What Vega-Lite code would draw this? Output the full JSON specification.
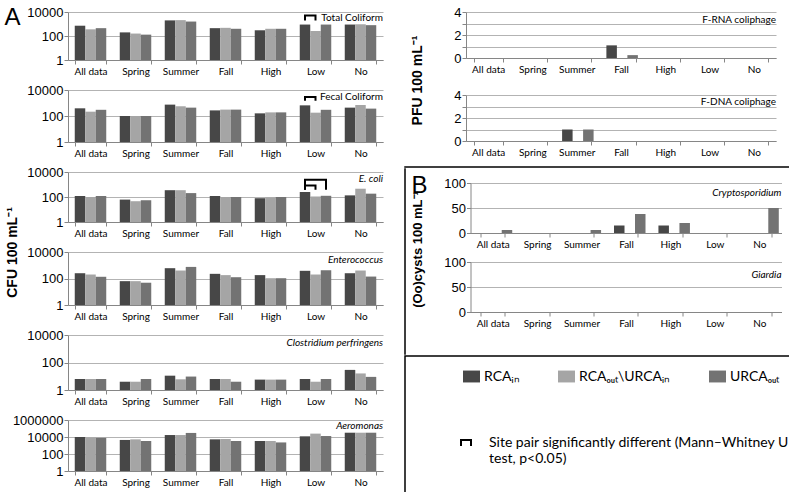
{
  "$schema": "https://vega.github.io/schema/vega-lite/v6.json",
  "padding": {"left": 4, "top": 5, "right": 0, "bottom": 0},
  "datasets": {
    "bac": [
      {"g": "Total Coliform", "cat": "All data", "site": "RCAᵢₙ", "v": 720},
      {"g": "Total Coliform", "cat": "All data", "site": "RCAₒᵤₜ\\URCAᵢₙ", "v": 360},
      {"g": "Total Coliform", "cat": "All data", "site": "URCAₒᵤₜ", "v": 450},
      {"g": "Total Coliform", "cat": "Spring", "site": "RCAᵢₙ", "v": 200},
      {"g": "Total Coliform", "cat": "Spring", "site": "RCAₒᵤₜ\\URCAᵢₙ", "v": 160},
      {"g": "Total Coliform", "cat": "Spring", "site": "URCAₒᵤₜ", "v": 130},
      {"g": "Total Coliform", "cat": "Summer", "site": "RCAᵢₙ", "v": 2000},
      {"g": "Total Coliform", "cat": "Summer", "site": "RCAₒᵤₜ\\URCAᵢₙ", "v": 2100},
      {"g": "Total Coliform", "cat": "Summer", "site": "URCAₒᵤₜ", "v": 1600},
      {"g": "Total Coliform", "cat": "Fall", "site": "RCAᵢₙ", "v": 450},
      {"g": "Total Coliform", "cat": "Fall", "site": "RCAₒᵤₜ\\URCAᵢₙ", "v": 480},
      {"g": "Total Coliform", "cat": "Fall", "site": "URCAₒᵤₜ", "v": 400},
      {"g": "Total Coliform", "cat": "High", "site": "RCAᵢₙ", "v": 300},
      {"g": "Total Coliform", "cat": "High", "site": "RCAₒᵤₜ\\URCAᵢₙ", "v": 400},
      {"g": "Total Coliform", "cat": "High", "site": "URCAₒᵤₜ", "v": 400},
      {"g": "Total Coliform", "cat": "Low", "site": "RCAᵢₙ", "v": 900},
      {"g": "Total Coliform", "cat": "Low", "site": "RCAₒᵤₜ\\URCAᵢₙ", "v": 260},
      {"g": "Total Coliform", "cat": "Low", "site": "URCAₒᵤₜ", "v": 900},
      {"g": "Total Coliform", "cat": "No", "site": "RCAᵢₙ", "v": 900},
      {"g": "Total Coliform", "cat": "No", "site": "RCAₒᵤₜ\\URCAᵢₙ", "v": 950},
      {"g": "Total Coliform", "cat": "No", "site": "URCAₒᵤₜ", "v": 800},
      {"g": "Fecal Coliform", "cat": "All data", "site": "RCAᵢₙ", "v": 390},
      {"g": "Fecal Coliform", "cat": "All data", "site": "RCAₒᵤₜ\\URCAᵢₙ", "v": 215},
      {"g": "Fecal Coliform", "cat": "All data", "site": "URCAₒᵤₜ", "v": 300},
      {"g": "Fecal Coliform", "cat": "Spring", "site": "RCAᵢₙ", "v": 100},
      {"g": "Fecal Coliform", "cat": "Spring", "site": "RCAₒᵤₜ\\URCAᵢₙ", "v": 100},
      {"g": "Fecal Coliform", "cat": "Spring", "site": "URCAₒᵤₜ", "v": 100},
      {"g": "Fecal Coliform", "cat": "Summer", "site": "RCAᵢₙ", "v": 750},
      {"g": "Fecal Coliform", "cat": "Summer", "site": "RCAₒᵤₜ\\URCAᵢₙ", "v": 560},
      {"g": "Fecal Coliform", "cat": "Summer", "site": "URCAₒᵤₜ", "v": 440},
      {"g": "Fecal Coliform", "cat": "Fall", "site": "RCAᵢₙ", "v": 270},
      {"g": "Fecal Coliform", "cat": "Fall", "site": "RCAₒᵤₜ\\URCAᵢₙ", "v": 310},
      {"g": "Fecal Coliform", "cat": "Fall", "site": "URCAₒᵤₜ", "v": 310},
      {"g": "Fecal Coliform", "cat": "High", "site": "RCAᵢₙ", "v": 160},
      {"g": "Fecal Coliform", "cat": "High", "site": "RCAₒᵤₜ\\URCAᵢₙ", "v": 190},
      {"g": "Fecal Coliform", "cat": "High", "site": "URCAₒᵤₜ", "v": 190},
      {"g": "Fecal Coliform", "cat": "Low", "site": "RCAᵢₙ", "v": 660},
      {"g": "Fecal Coliform", "cat": "Low", "site": "RCAₒᵤₜ\\URCAᵢₙ", "v": 180},
      {"g": "Fecal Coliform", "cat": "Low", "site": "URCAₒᵤₜ", "v": 300},
      {"g": "Fecal Coliform", "cat": "No", "site": "RCAᵢₙ", "v": 440},
      {"g": "Fecal Coliform", "cat": "No", "site": "RCAₒᵤₜ\\URCAᵢₙ", "v": 700},
      {"g": "Fecal Coliform", "cat": "No", "site": "URCAₒᵤₜ", "v": 370},
      {"g": "E. coli", "cat": "All data", "site": "RCAᵢₙ", "v": 120},
      {"g": "E. coli", "cat": "All data", "site": "RCAₒᵤₜ\\URCAᵢₙ", "v": 100},
      {"g": "E. coli", "cat": "All data", "site": "URCAₒᵤₜ", "v": 120},
      {"g": "E. coli", "cat": "Spring", "site": "RCAᵢₙ", "v": 62},
      {"g": "E. coli", "cat": "Spring", "site": "RCAₒᵤₜ\\URCAᵢₙ", "v": 46},
      {"g": "E. coli", "cat": "Spring", "site": "URCAₒᵤₜ", "v": 55},
      {"g": "E. coli", "cat": "Summer", "site": "RCAᵢₙ", "v": 350},
      {"g": "E. coli", "cat": "Summer", "site": "RCAₒᵤₜ\\URCAᵢₙ", "v": 350},
      {"g": "E. coli", "cat": "Summer", "site": "URCAₒᵤₜ", "v": 205},
      {"g": "E. coli", "cat": "Fall", "site": "RCAᵢₙ", "v": 120},
      {"g": "E. coli", "cat": "Fall", "site": "RCAₒᵤₜ\\URCAᵢₙ", "v": 100},
      {"g": "E. coli", "cat": "Fall", "site": "URCAₒᵤₜ", "v": 100},
      {"g": "E. coli", "cat": "High", "site": "RCAᵢₙ", "v": 80},
      {"g": "E. coli", "cat": "High", "site": "RCAₒᵤₜ\\URCAᵢₙ", "v": 90},
      {"g": "E. coli", "cat": "High", "site": "URCAₒᵤₜ", "v": 100},
      {"g": "E. coli", "cat": "Low", "site": "RCAᵢₙ", "v": 250},
      {"g": "E. coli", "cat": "Low", "site": "RCAₒᵤₜ\\URCAᵢₙ", "v": 110},
      {"g": "E. coli", "cat": "Low", "site": "URCAₒᵤₜ", "v": 125},
      {"g": "E. coli", "cat": "No", "site": "RCAᵢₙ", "v": 135},
      {"g": "E. coli", "cat": "No", "site": "RCAₒᵤₜ\\URCAᵢₙ", "v": 460},
      {"g": "E. coli", "cat": "No", "site": "URCAₒᵤₜ", "v": 185},
      {"g": "Enterococcus", "cat": "All data", "site": "RCAᵢₙ", "v": 250},
      {"g": "Enterococcus", "cat": "All data", "site": "RCAₒᵤₜ\\URCAᵢₙ", "v": 200},
      {"g": "Enterococcus", "cat": "All data", "site": "URCAₒᵤₜ", "v": 135},
      {"g": "Enterococcus", "cat": "Spring", "site": "RCAᵢₙ", "v": 63},
      {"g": "Enterococcus", "cat": "Spring", "site": "RCAₒᵤₜ\\URCAᵢₙ", "v": 63},
      {"g": "Enterococcus", "cat": "Spring", "site": "URCAₒᵤₜ", "v": 48},
      {"g": "Enterococcus", "cat": "Summer", "site": "RCAᵢₙ", "v": 600},
      {"g": "Enterococcus", "cat": "Summer", "site": "RCAₒᵤₜ\\URCAᵢₙ", "v": 400},
      {"g": "Enterococcus", "cat": "Summer", "site": "URCAₒᵤₜ", "v": 750},
      {"g": "Enterococcus", "cat": "Fall", "site": "RCAᵢₙ", "v": 225},
      {"g": "Enterococcus", "cat": "Fall", "site": "RCAₒᵤₜ\\URCAᵢₙ", "v": 180},
      {"g": "Enterococcus", "cat": "Fall", "site": "URCAₒᵤₜ", "v": 125},
      {"g": "Enterococcus", "cat": "High", "site": "RCAᵢₙ", "v": 180},
      {"g": "Enterococcus", "cat": "High", "site": "RCAₒᵤₜ\\URCAᵢₙ", "v": 105},
      {"g": "Enterococcus", "cat": "High", "site": "URCAₒᵤₜ", "v": 105},
      {"g": "Enterococcus", "cat": "Low", "site": "RCAᵢₙ", "v": 380},
      {"g": "Enterococcus", "cat": "Low", "site": "RCAₒᵤₜ\\URCAᵢₙ", "v": 200},
      {"g": "Enterococcus", "cat": "Low", "site": "URCAₒᵤₜ", "v": 420},
      {"g": "Enterococcus", "cat": "No", "site": "RCAᵢₙ", "v": 250},
      {"g": "Enterococcus", "cat": "No", "site": "RCAₒᵤₜ\\URCAᵢₙ", "v": 400},
      {"g": "Enterococcus", "cat": "No", "site": "URCAₒᵤₜ", "v": 140},
      {"g": "Clostridium perfringens", "cat": "All data", "site": "RCAᵢₙ", "v": 6.3},
      {"g": "Clostridium perfringens", "cat": "All data", "site": "RCAₒᵤₜ\\URCAᵢₙ", "v": 6.3},
      {"g": "Clostridium perfringens", "cat": "All data", "site": "URCAₒᵤₜ", "v": 6.3},
      {"g": "Clostridium perfringens", "cat": "Spring", "site": "RCAᵢₙ", "v": 4},
      {"g": "Clostridium perfringens", "cat": "Spring", "site": "RCAₒᵤₜ\\URCAᵢₙ", "v": 4},
      {"g": "Clostridium perfringens", "cat": "Spring", "site": "URCAₒᵤₜ", "v": 6.3},
      {"g": "Clostridium perfringens", "cat": "Summer", "site": "RCAᵢₙ", "v": 11},
      {"g": "Clostridium perfringens", "cat": "Summer", "site": "RCAₒᵤₜ\\URCAᵢₙ", "v": 6},
      {"g": "Clostridium perfringens", "cat": "Summer", "site": "URCAₒᵤₜ", "v": 9.5},
      {"g": "Clostridium perfringens", "cat": "Fall", "site": "RCAᵢₙ", "v": 6.3},
      {"g": "Clostridium perfringens", "cat": "Fall", "site": "RCAₒᵤₜ\\URCAᵢₙ", "v": 6.3},
      {"g": "Clostridium perfringens", "cat": "Fall", "site": "URCAₒᵤₜ", "v": 4},
      {"g": "Clostridium perfringens", "cat": "High", "site": "RCAᵢₙ", "v": 5.7},
      {"g": "Clostridium perfringens", "cat": "High", "site": "RCAₒᵤₜ\\URCAᵢₙ", "v": 5.7},
      {"g": "Clostridium perfringens", "cat": "High", "site": "URCAₒᵤₜ", "v": 5.7},
      {"g": "Clostridium perfringens", "cat": "Low", "site": "RCAᵢₙ", "v": 6.3},
      {"g": "Clostridium perfringens", "cat": "Low", "site": "RCAₒᵤₜ\\URCAᵢₙ", "v": 4},
      {"g": "Clostridium perfringens", "cat": "Low", "site": "URCAₒᵤₜ", "v": 6.3},
      {"g": "Clostridium perfringens", "cat": "No", "site": "RCAᵢₙ", "v": 29},
      {"g": "Clostridium perfringens", "cat": "No", "site": "RCAₒᵤₜ\\URCAᵢₙ", "v": 16},
      {"g": "Clostridium perfringens", "cat": "No", "site": "URCAₒᵤₜ", "v": 9},
      {"g": "Aeromonas", "cat": "All data", "site": "RCAᵢₙ", "v": 10000},
      {"g": "Aeromonas", "cat": "All data", "site": "RCAₒᵤₜ\\URCAᵢₙ", "v": 8900},
      {"g": "Aeromonas", "cat": "All data", "site": "URCAₒᵤₜ", "v": 8000},
      {"g": "Aeromonas", "cat": "Spring", "site": "RCAᵢₙ", "v": 4500},
      {"g": "Aeromonas", "cat": "Spring", "site": "RCAₒᵤₜ\\URCAᵢₙ", "v": 5300},
      {"g": "Aeromonas", "cat": "Spring", "site": "URCAₒᵤₜ", "v": 3400},
      {"g": "Aeromonas", "cat": "Summer", "site": "RCAᵢₙ", "v": 17000},
      {"g": "Aeromonas", "cat": "Summer", "site": "RCAₒᵤₜ\\URCAᵢₙ", "v": 17000},
      {"g": "Aeromonas", "cat": "Summer", "site": "URCAₒᵤₜ", "v": 30000},
      {"g": "Aeromonas", "cat": "Fall", "site": "RCAᵢₙ", "v": 5300},
      {"g": "Aeromonas", "cat": "Fall", "site": "RCAₒᵤₜ\\URCAᵢₙ", "v": 5800},
      {"g": "Aeromonas", "cat": "Fall", "site": "URCAₒᵤₜ", "v": 3400},
      {"g": "Aeromonas", "cat": "High", "site": "RCAᵢₙ", "v": 3400},
      {"g": "Aeromonas", "cat": "High", "site": "RCAₒᵤₜ\\URCAᵢₙ", "v": 3400},
      {"g": "Aeromonas", "cat": "High", "site": "URCAₒᵤₜ", "v": 2300},
      {"g": "Aeromonas", "cat": "Low", "site": "RCAᵢₙ", "v": 12000},
      {"g": "Aeromonas", "cat": "Low", "site": "RCAₒᵤₜ\\URCAᵢₙ", "v": 25000},
      {"g": "Aeromonas", "cat": "Low", "site": "URCAₒᵤₜ", "v": 13000},
      {"g": "Aeromonas", "cat": "No", "site": "RCAᵢₙ", "v": 32000},
      {"g": "Aeromonas", "cat": "No", "site": "RCAₒᵤₜ\\URCAᵢₙ", "v": 32000},
      {"g": "Aeromonas", "cat": "No", "site": "URCAₒᵤₜ", "v": 32000}
    ],
    "brk": [
      {"g": "Total Coliform", "bid": "tc", "ord": 1, "cat": "Low", "site": "RCAᵢₙ", "v": 2000},
      {"g": "Total Coliform", "bid": "tc", "ord": 2, "cat": "Low", "site": "RCAᵢₙ", "v": 5000},
      {"g": "Total Coliform", "bid": "tc", "ord": 3, "cat": "Low", "site": "RCAₒᵤₜ\\URCAᵢₙ", "v": 5000},
      {"g": "Total Coliform", "bid": "tc", "ord": 4, "cat": "Low", "site": "RCAₒᵤₜ\\URCAᵢₙ", "v": 2000},
      {"g": "Fecal Coliform", "bid": "fc", "ord": 1, "cat": "Low", "site": "RCAᵢₙ", "v": 1500},
      {"g": "Fecal Coliform", "bid": "fc", "ord": 2, "cat": "Low", "site": "RCAᵢₙ", "v": 2900},
      {"g": "Fecal Coliform", "bid": "fc", "ord": 3, "cat": "Low", "site": "RCAₒᵤₜ\\URCAᵢₙ", "v": 2900},
      {"g": "Fecal Coliform", "bid": "fc", "ord": 4, "cat": "Low", "site": "RCAₒᵤₜ\\URCAᵢₙ", "v": 1500},
      {"g": "E. coli", "bid": "ec1", "ord": 1, "cat": "Low", "site": "RCAᵢₙ", "v": 380},
      {"g": "E. coli", "bid": "ec1", "ord": 2, "cat": "Low", "site": "RCAᵢₙ", "v": 850},
      {"g": "E. coli", "bid": "ec1", "ord": 3, "cat": "Low", "site": "RCAₒᵤₜ\\URCAᵢₙ", "v": 850},
      {"g": "E. coli", "bid": "ec1", "ord": 4, "cat": "Low", "site": "RCAₒᵤₜ\\URCAᵢₙ", "v": 380},
      {"g": "E. coli", "bid": "ec2", "ord": 1, "cat": "Low", "site": "RCAᵢₙ", "v": 380},
      {"g": "E. coli", "bid": "ec2", "ord": 2, "cat": "Low", "site": "RCAᵢₙ", "v": 2400},
      {"g": "E. coli", "bid": "ec2", "ord": 3, "cat": "Low", "site": "URCAₒᵤₜ", "v": 2400},
      {"g": "E. coli", "bid": "ec2", "ord": 4, "cat": "Low", "site": "URCAₒᵤₜ", "v": 380}
    ],
    "phage": [
      {"g": "F-RNA coliphage", "cat": "Fall", "site": "RCAᵢₙ", "v": 1.1},
      {"g": "F-RNA coliphage", "cat": "Fall", "site": "URCAₒᵤₜ", "v": 0.25},
      {"g": "F-DNA coliphage", "cat": "Summer", "site": "RCAᵢₙ", "v": 1.0},
      {"g": "F-DNA coliphage", "cat": "Summer", "site": "URCAₒᵤₜ", "v": 1.0}
    ],
    "cyst": [
      {"g": "Cryptosporidium", "cat": "All data", "site": "URCAₒᵤₜ", "v": 6},
      {"g": "Cryptosporidium", "cat": "Summer", "site": "URCAₒᵤₜ", "v": 6},
      {"g": "Cryptosporidium", "cat": "Fall", "site": "RCAᵢₙ", "v": 15},
      {"g": "Cryptosporidium", "cat": "Fall", "site": "URCAₒᵤₜ", "v": 38},
      {"g": "Cryptosporidium", "cat": "High", "site": "RCAᵢₙ", "v": 15},
      {"g": "Cryptosporidium", "cat": "High", "site": "URCAₒᵤₜ", "v": 20},
      {"g": "Cryptosporidium", "cat": "No", "site": "URCAₒᵤₜ", "v": 50}
    ]
  },
  "hconcat": [
    {
      "vconcat": [
        {
          "width": 315, "height": 48,
          "title": {"text": "Total Coliform", "offset": -18},
          "layer": [
            {
              "data": {"name": "bac"},
              "transform": [{"filter": "datum.g === 'Total Coliform'"}],
              "mark": "bar",
              "encoding": {
                "x": {"field": "cat", "type": "nominal", "scale": {"domain": ["All data", "Spring", "Summer", "Fall", "High", "Low", "No"], "paddingInner": 0.3, "paddingOuter": 0.15}, "axis": {"title": null}},
                "xOffset": {"field": "site", "type": "nominal", "scale": {"domain": ["RCAᵢₙ", "RCAₒᵤₜ\\URCAᵢₙ", "URCAₒᵤₜ"]}},
                "y": {"field": "v", "type": "quantitative", "scale": {"type": "log", "domain": [1, 10000]}, "axis": {"values": [1, 100, 10000], "format": "d", "title": "A", "titleAngle": 0, "titleFontSize": 24, "titleFontWeight": "normal", "titleX": -64, "titleY": -7, "titleAlign": "left", "titleBaseline": "top"}},
                "y2": {"datum": 1},
                "fill": {"field": "site", "type": "nominal", "scale": {"domain": ["RCAᵢₙ", "RCAₒᵤₜ\\URCAᵢₙ", "URCAₒᵤₜ"], "range": ["#474747", "#a5a5a5", "#737373"]},
                  "legend": {"orient": "none", "legendX": 395, "legendY": 356, "direction": "horizontal", "columns": 3, "gridAlign": "none", "columnPadding": 38, "title": null, "symbolType": "M-1,-0.7H1V0.7H-1Z", "symbolSize": 289, "symbolStrokeWidth": 0, "labelFont": "Lato", "labelFontSize": 14, "labelColor": "#000", "labelOffset": 4}}
              }
            },
            {
              "data": {"name": "brk"},
              "transform": [{"filter": "datum.g === 'Total Coliform'"}],
              "mark": {"type": "line", "strokeWidth": 2},
              "encoding": {
                "x": {"field": "cat", "type": "nominal"},
                "xOffset": {"field": "site", "type": "nominal"},
                "y": {"field": "v", "type": "quantitative"},
                "detail": {"field": "bid"},
                "order": {"field": "ord"},
                "stroke": {"datum": "Site pair significantly different (Mann–Whitney U test, p<0.05)", "scale": {"range": ["#000000"]},
                  "legend": {"orient": "none", "legendX": 391, "legendY": 424, "title": null, "symbolType": "M-1,0.6V-0.6H1V0.6", "symbolSize": 100, "symbolStrokeWidth": 2, "symbolStrokeColor": "#000", "symbolFillColor": "transparent", "labelFont": "Lato", "labelFontSize": 14, "labelColor": "#000", "labelOffset": 16, "labelLimit": 500, "labelExpr": "['Site pair significantly different (Mann–Whitney U', 'test, p<0.05)']"}}
              }
            }
          ]
        },
        {
          "width": 315, "height": 52,
          "title": {"text": "Fecal Coliform", "offset": -18},
          "layer": [
            {
              "data": {"name": "bac"},
              "transform": [{"filter": "datum.g === 'Fecal Coliform'"}],
              "mark": "bar",
              "encoding": {
                "x": {"field": "cat", "type": "nominal", "scale": {"domain": ["All data", "Spring", "Summer", "Fall", "High", "Low", "No"], "paddingInner": 0.3, "paddingOuter": 0.15}, "axis": {"title": null}},
                "xOffset": {"field": "site", "type": "nominal", "scale": {"domain": ["RCAᵢₙ", "RCAₒᵤₜ\\URCAᵢₙ", "URCAₒᵤₜ"]}},
                "y": {"field": "v", "type": "quantitative", "scale": {"type": "log", "domain": [1, 10000]}, "axis": {"values": [1, 100, 10000], "format": "d", "title": null}},
                "y2": {"datum": 1},
                "fill": {"field": "site", "type": "nominal"}
              }
            },
            {
              "data": {"name": "brk"},
              "transform": [{"filter": "datum.g === 'Fecal Coliform'"}],
              "mark": {"type": "line", "strokeWidth": 2},
              "encoding": {
                "x": {"field": "cat", "type": "nominal"},
                "xOffset": {"field": "site", "type": "nominal"},
                "y": {"field": "v", "type": "quantitative"},
                "detail": {"field": "bid"},
                "order": {"field": "ord"},
                "stroke": {"datum": "Site pair significantly different (Mann–Whitney U test, p<0.05)"}
              }
            }
          ]
        },
        {
          "width": 315, "height": 50,
          "title": {"text": "E. coli", "offset": -18, "fontStyle": "italic"},
          "layer": [
            {
              "data": {"name": "bac"},
              "transform": [{"filter": "datum.g === 'E. coli'"}],
              "mark": "bar",
              "encoding": {
                "x": {"field": "cat", "type": "nominal", "scale": {"domain": ["All data", "Spring", "Summer", "Fall", "High", "Low", "No"], "paddingInner": 0.3, "paddingOuter": 0.15}, "axis": {"title": null}},
                "xOffset": {"field": "site", "type": "nominal", "scale": {"domain": ["RCAᵢₙ", "RCAₒᵤₜ\\URCAᵢₙ", "URCAₒᵤₜ"]}},
                "y": {"field": "v", "type": "quantitative", "scale": {"type": "log", "domain": [1, 10000]}, "axis": {"values": [1, 100, 10000], "format": "d", "title": "CFU 100 mL⁻¹", "titleX": -56, "titleY": 80, "titleAlign": "center", "titleBaseline": "middle"}},
                "y2": {"datum": 1},
                "fill": {"field": "site", "type": "nominal"}
              }
            },
            {
              "data": {"name": "brk"},
              "transform": [{"filter": "datum.g === 'E. coli'"}],
              "mark": {"type": "line", "strokeWidth": 2},
              "encoding": {
                "x": {"field": "cat", "type": "nominal"},
                "xOffset": {"field": "site", "type": "nominal"},
                "y": {"field": "v", "type": "quantitative"},
                "detail": {"field": "bid"},
                "order": {"field": "ord"},
                "stroke": {"datum": "Site pair significantly different (Mann–Whitney U test, p<0.05)"}
              }
            }
          ]
        },
        {
          "width": 315, "height": 53,
          "title": {"text": "Enterococcus", "offset": -19, "fontStyle": "italic"},
          "data": {"name": "bac"},
          "transform": [{"filter": "datum.g === 'Enterococcus'"}],
          "mark": "bar",
          "encoding": {
            "x": {"field": "cat", "type": "nominal", "scale": {"domain": ["All data", "Spring", "Summer", "Fall", "High", "Low", "No"], "paddingInner": 0.3, "paddingOuter": 0.15}, "axis": {"title": null}},
            "xOffset": {"field": "site", "type": "nominal", "scale": {"domain": ["RCAᵢₙ", "RCAₒᵤₜ\\URCAᵢₙ", "URCAₒᵤₜ"]}},
            "y": {"field": "v", "type": "quantitative", "scale": {"type": "log", "domain": [1, 10000]}, "axis": {"values": [1, 100, 10000], "format": "d", "title": null}},
            "y2": {"datum": 1},
            "fill": {"field": "site", "type": "nominal"}
          }
        },
        {
          "width": 315, "height": 55,
          "title": {"text": "Clostridium perfringens", "offset": -19, "fontStyle": "italic"},
          "data": {"name": "bac"},
          "transform": [{"filter": "datum.g === 'Clostridium perfringens'"}],
          "mark": "bar",
          "encoding": {
            "x": {"field": "cat", "type": "nominal", "scale": {"domain": ["All data", "Spring", "Summer", "Fall", "High", "Low", "No"], "paddingInner": 0.3, "paddingOuter": 0.15}, "axis": {"title": null}},
            "xOffset": {"field": "site", "type": "nominal", "scale": {"domain": ["RCAᵢₙ", "RCAₒᵤₜ\\URCAᵢₙ", "URCAₒᵤₜ"]}},
            "y": {"field": "v", "type": "quantitative", "scale": {"type": "log", "domain": [1, 10000]}, "axis": {"values": [1, 100, 10000], "format": "d", "title": null}},
            "y2": {"datum": 1},
            "fill": {"field": "site", "type": "nominal"}
          }
        },
        {
          "width": 315, "height": 51,
          "title": {"text": "Aeromonas", "offset": -17, "fontStyle": "italic"},
          "data": {"name": "bac"},
          "transform": [{"filter": "datum.g === 'Aeromonas'"}],
          "mark": "bar",
          "encoding": {
            "x": {"field": "cat", "type": "nominal", "scale": {"domain": ["All data", "Spring", "Summer", "Fall", "High", "Low", "No"], "paddingInner": 0.3, "paddingOuter": 0.15}, "axis": {"title": null}},
            "xOffset": {"field": "site", "type": "nominal", "scale": {"domain": ["RCAᵢₙ", "RCAₒᵤₜ\\URCAᵢₙ", "URCAₒᵤₜ"]}},
            "y": {"field": "v", "type": "quantitative", "scale": {"type": "log", "domain": [1, 1000000]}, "axis": {"values": [1, 100, 10000, 1000000], "format": "d", "title": null}},
            "y2": {"datum": 1},
            "fill": {"field": "site", "type": "nominal"}
          }
        }
      ],
      "bounds": "flush",
      "spacing": 30
    },
    {
      "vconcat": [
        {
          "hconcat": [
            {"width": 0.01, "height": 1, "data": {"values": []}, "mark": "point", "view": {"stroke": "transparent"}},
            {
              "vconcat": [
                {
                  "width": 310, "height": 46,
                  "title": {"text": "F-RNA coliphage", "offset": -19},
                  "data": {"name": "phage"},
                  "transform": [{"filter": "datum.g === 'F-RNA coliphage'"}],
                  "mark": "bar",
                  "encoding": {
                    "x": {"field": "cat", "type": "nominal", "scale": {"domain": ["All data", "Spring", "Summer", "Fall", "High", "Low", "No"], "paddingInner": 0.34, "paddingOuter": 0.17}, "axis": {"title": null}},
                    "xOffset": {"field": "site", "type": "nominal", "scale": {"domain": ["RCAᵢₙ", "RCAₒᵤₜ\\URCAᵢₙ", "URCAₒᵤₜ"]}},
                    "y": {"field": "v", "type": "quantitative", "scale": {"domain": [0, 4], "nice": false}, "axis": {"values": [0, 1, 2, 3, 4], "labelExpr": "datum.value % 2 === 0 ? datum.label : ''", "title": "PFU 100 mL⁻¹", "titleX": -49, "titleY": 68, "titleAlign": "center", "titleBaseline": "middle"}},
                    "fill": {"field": "site", "type": "nominal"}
                  }
                },
                {
                  "width": 310, "height": 46,
                  "title": {"text": "F-DNA coliphage", "offset": -18},
                  "data": {"name": "phage"},
                  "transform": [{"filter": "datum.g === 'F-DNA coliphage'"}],
                  "mark": "bar",
                  "encoding": {
                    "x": {"field": "cat", "type": "nominal", "scale": {"domain": ["All data", "Spring", "Summer", "Fall", "High", "Low", "No"], "paddingInner": 0.34, "paddingOuter": 0.17}, "axis": {"title": null}},
                    "xOffset": {"field": "site", "type": "nominal", "scale": {"domain": ["RCAᵢₙ", "RCAₒᵤₜ\\URCAᵢₙ", "URCAₒᵤₜ"]}},
                    "y": {"field": "v", "type": "quantitative", "scale": {"domain": [0, 4], "nice": false}, "axis": {"values": [0, 1, 2, 3, 4], "labelExpr": "datum.value % 2 === 0 ? datum.label : ''", "title": null}},
                    "fill": {"field": "site", "type": "nominal"}
                  }
                }
              ],
              "bounds": "flush",
              "spacing": 37
            }
          ],
          "spacing": 3
        },
        {
          "vconcat": [
            {"width": 390, "height": 0.01, "data": {"values": []}, "mark": "point", "view": {"stroke": "#000000", "strokeWidth": 1.5}},
            {
              "hconcat": [
                {"width": 0.01, "height": 185, "data": {"values": []}, "mark": "point", "view": {"stroke": "#000000", "strokeWidth": 1.5}},
                {
                  "vconcat": [
                    {"width": 1, "height": 0.01, "data": {"values": []}, "mark": "point", "view": {"stroke": "transparent"}},
                    {
                      "title": {"text": "B", "orient": "top", "anchor": "start", "frame": "bounds", "baseline": "top", "offset": -21, "font": "Liberation Sans", "fontSize": 24, "fontWeight": "normal", "fontStyle": "normal"},
                      "vconcat": [
                        {
                          "width": 311, "height": 50,
                          "title": {"text": "Cryptosporidium", "offset": -21, "fontStyle": "italic"},
                          "data": {"name": "cyst"},
                          "transform": [{"filter": "datum.g === 'Cryptosporidium'"}],
                          "mark": "bar",
                          "encoding": {
                            "x": {"field": "cat", "type": "nominal", "scale": {"domain": ["All data", "Spring", "Summer", "Fall", "High", "Low", "No"], "paddingInner": 0.46, "paddingOuter": 0.23}, "axis": {"title": null}},
                            "xOffset": {"field": "site", "type": "nominal", "scale": {"domain": ["RCAᵢₙ", "URCAₒᵤₜ"]}},
                            "y": {"field": "v", "type": "quantitative", "scale": {"domain": [0, 100], "nice": false}, "axis": {"values": [0, 50, 100], "title": "(Oo)cysts 100 mL⁻¹", "titleFontSize": 13, "titleX": -53, "titleY": 66, "titleAlign": "center", "titleBaseline": "middle"}},
                            "fill": {"field": "site", "type": "nominal"}
                          }
                        },
                        {
                          "width": 311, "height": 50,
                          "title": {"text": "Giardia", "offset": -24, "fontStyle": "italic"},
                          "data": {"name": "cyst"},
                          "transform": [{"filter": "datum.g === 'Giardia'"}],
                          "mark": "bar",
                          "encoding": {
                            "x": {"field": "cat", "type": "nominal", "scale": {"domain": ["All data", "Spring", "Summer", "Fall", "High", "Low", "No"], "paddingInner": 0.46, "paddingOuter": 0.23}, "axis": {"title": null}},
                            "xOffset": {"field": "site", "type": "nominal", "scale": {"domain": ["RCAᵢₙ", "URCAₒᵤₜ"]}},
                            "y": {"field": "v", "type": "quantitative", "scale": {"domain": [0, 100], "nice": false}, "axis": {"values": [0, 50, 100], "title": null}},
                            "fill": {"field": "site", "type": "nominal"}
                          }
                        }
                      ],
                      "bounds": "flush",
                      "spacing": 29
                    }
                  ],
                  "spacing": 4
                }
              ],
              "spacing": 4.5
            },
            {"width": 390, "height": 150, "data": {"values": []}, "mark": "point", "view": {"stroke": "#000000", "strokeWidth": 1.5}}
          ],
          "spacing": 0
        }
      ],
      "spacing": 9
    }
  ],
  "spacing": 21,
  "config": {
    "font": "Lato",
    "view": {"stroke": null},
    "axis": {"domainColor": "#868686", "tickColor": "#868686", "gridColor": "#b3b3b3", "labelColor": "#000000", "titleColor": "#000000", "domainWidth": 1, "tickWidth": 1, "gridWidth": 1},
    "axisX": {"labelFont": "Lato", "labelFontSize": 10, "labelAngle": 0, "tickBand": "extent", "tickSize": 4, "labelPadding": 2, "grid": false},
    "axisY": {"labelFont": "Liberation Sans", "labelFontSize": 13, "tickSize": 4, "labelPadding": 1, "grid": true, "titleFont": "Liberation Sans", "titleFontSize": 14, "titleFontWeight": "bold"},
    "title": {"font": "Lato", "fontSize": 10, "fontWeight": "normal", "anchor": "end", "frame": "group", "baseline": "middle", "color": "#000000"},
    "bar": {"stroke": null}
  }
}
